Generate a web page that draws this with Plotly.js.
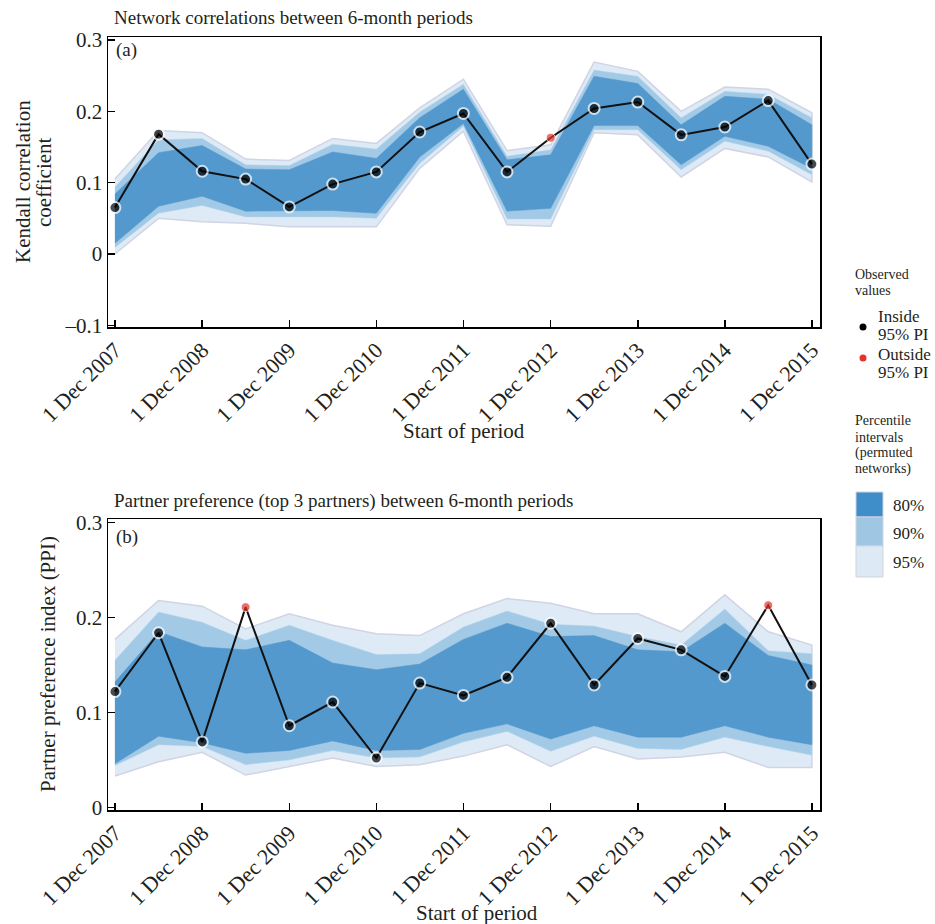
<!DOCTYPE html>
<html>
<head>
<meta charset="utf-8">
<script src="https://cdn.plot.ly/plotly-3.0.1.min.js"></script>
<style>html,body{margin:0;padding:0;background:#fff;}</style>
</head>
<body>
<div id="chart" style="width:935px;height:924px;"></div>
<script>
// ---- data ----
const periods = ['2007-12-01','2008-06-01','2008-12-01','2009-06-01','2009-12-01','2010-06-01','2010-12-01','2011-06-01','2011-12-01','2012-06-01','2012-12-01','2013-06-01','2013-12-01','2014-06-01','2014-12-01','2015-06-01','2015-12-01'];
const tickDates = ['2007-12-01','2008-12-01','2009-12-01','2010-12-01','2011-12-01','2012-12-01','2013-12-01','2014-12-01','2015-12-01'];
const tickLabels = ['1 Dec 2007','1 Dec 2008','1 Dec 2009','1 Dec 2010','1 Dec 2011','1 Dec 2012','1 Dec 2013','1 Dec 2014','1 Dec 2015'];

// Panel (a) Kendall correlation
const obsA  = [0.065,0.168,0.116,0.105,0.066,0.098,0.115,0.171,0.197,0.115,0.163,0.204,0.213,0.167,0.178,0.215,0.126];
const outA  = [0,0,0,0,0,0,0,0,0,0,1,0,0,0,0,0,0];
const lo80A = [0.015,0.067,0.081,0.060,0.060,0.061,0.057,0.136,0.183,0.060,0.064,0.180,0.180,0.125,0.165,0.151,0.120];
const hi80A = [0.084,0.142,0.152,0.119,0.118,0.143,0.134,0.191,0.231,0.132,0.139,0.249,0.239,0.181,0.221,0.217,0.181];
const lo90A = [0.009,0.057,0.068,0.052,0.052,0.052,0.050,0.127,0.179,0.049,0.049,0.174,0.174,0.118,0.158,0.144,0.111];
const hi90A = [0.094,0.160,0.162,0.125,0.124,0.154,0.147,0.199,0.238,0.137,0.146,0.258,0.249,0.191,0.228,0.224,0.191];
const lo95A = [0.000,0.050,0.045,0.043,0.038,0.038,0.038,0.120,0.172,0.041,0.039,0.170,0.167,0.108,0.148,0.136,0.101];
const hi95A = [0.105,0.173,0.170,0.133,0.131,0.162,0.155,0.205,0.245,0.145,0.153,0.269,0.256,0.200,0.234,0.231,0.198];

// Panel (b) Partner preference index
const obsB  = [0.122,0.184,0.069,0.211,0.086,0.111,0.052,0.131,0.118,0.137,0.194,0.129,0.178,0.166,0.138,0.213,0.129];
const outB  = [0,0,0,1,0,0,0,0,0,0,0,0,0,0,0,1,0];
const lo80B = [0.046,0.075,0.068,0.057,0.060,0.070,0.060,0.061,0.078,0.088,0.072,0.086,0.074,0.074,0.086,0.074,0.066];
const hi80B = [0.132,0.185,0.169,0.166,0.176,0.152,0.145,0.151,0.177,0.194,0.180,0.181,0.166,0.164,0.194,0.160,0.150];
const lo90B = [0.044,0.066,0.064,0.045,0.050,0.060,0.052,0.053,0.069,0.080,0.059,0.075,0.062,0.061,0.074,0.064,0.055];
const hi90B = [0.155,0.206,0.195,0.176,0.192,0.176,0.161,0.162,0.190,0.207,0.193,0.191,0.180,0.171,0.209,0.165,0.162];
const lo95B = [0.033,0.048,0.058,0.034,0.043,0.052,0.043,0.045,0.054,0.066,0.043,0.064,0.051,0.053,0.058,0.042,0.042];
const hi95B = [0.177,0.218,0.212,0.188,0.204,0.192,0.183,0.181,0.204,0.220,0.215,0.204,0.204,0.185,0.224,0.185,0.171];

// ---- styling ----
const C80 = '#5499cd', C90 = '#a2c9e5', C95 = '#deebf6';
const FONT = 'Liberation Serif, Times New Roman, serif';
const TXT = '#231f20';

function band(lo, hi, color, lineColor, lineW, xa, ya) {
  const xs = periods.concat(periods.slice().reverse());
  const ys = hi.concat(lo.slice().reverse());
  return {x: xs, y: ys, xaxis: xa, yaxis: ya, type: 'scatter', mode: 'lines',
    fill: 'toself', fillcolor: color, line: {color: lineColor, width: lineW},
    hoverinfo: 'skip', showlegend: false};
}
function obsTraces(obs, out, xa, ya) {
  return [
    {x: periods, y: obs, xaxis: xa, yaxis: ya, type: 'scatter', mode: 'lines',
     line: {color: '#111', width: 2}, showlegend: false},
    {x: periods, y: obs, xaxis: xa, yaxis: ya, type: 'scatter', mode: 'markers',
     marker: {color: out.map(o => o ? '#e3342b' : '#000'),
              size: out.map(o => o ? 9 : 11),
              line: {color: '#ffffff', width: out.map(o => o ? 1 : 2)}},
     showlegend: false}
  ];
}

const traces = [
  band(lo95A, hi95A, C95, '#d0d4e4', 1.5, 'x', 'y'),
  band(lo90A, hi90A, C90, '#b9d6ec', 0.5, 'x', 'y'),
  band(lo80A, hi80A, C80, C80, 0.5, 'x', 'y'),
  ...obsTraces(obsA, outA, 'x', 'y'),
  band(lo95B, hi95B, C95, '#d0d4e4', 1.5, 'x2', 'y2'),
  band(lo90B, hi90B, C90, '#b9d6ec', 0.5, 'x2', 'y2'),
  band(lo80B, hi80B, C80, C80, 0.5, 'x2', 'y2'),
  ...obsTraces(obsB, outB, 'x2', 'y2')
];

// pixel -> paper helpers (plot area: x 108..820, y 37..810)
const L = 108, R = 820, T = 37, B = 810;
const px = v => (v - L) / (R - L);
const py = v => (B - v) / (B - T);

const xBase = {
  type: 'date', range: ['2007-11-02', '2016-01-04'],
  tickvals: tickDates, ticktext: tickLabels, tickangle: -45,
  ticks: 'inside', ticklen: 7, tickwidth: 1.5, tickcolor: '#000',
  showline: true, linewidth: 1.5, linecolor: '#000', mirror: true,
  showgrid: false, zeroline: false,
  tickfont: {family: FONT, size: 22, color: TXT}
};
const yBase = {
  ticks: 'inside', ticklen: 7, tickwidth: 1.5, tickcolor: '#000',
  showline: true, linewidth: 1.5, linecolor: '#000', mirror: true,
  showgrid: false, zeroline: false,
  tickfont: {family: FONT, size: 21, color: TXT}
};

function ann(text, x, y, size, opts) {
  return Object.assign({text: text, x: x, y: y, xref: 'paper', yref: 'paper',
    showarrow: false, xanchor: 'left', yanchor: 'middle',
    font: {family: FONT, size: size, color: TXT}}, opts || {});
}

const annotations = [
  ann('Network correlations between 6-month periods', px(112), py(17), 19),
  ann('Partner preference (top 3 partners) between 6-month periods', px(112), py(501), 19),
  ann('(a)', px(114), py(50), 19),
  ann('(b)', px(114), py(537), 19),
  ann('Kendall correlation', px(23), py(182), 21, {textangle: -90, xanchor: 'center'}),
  ann('coefficient', px(44), py(182), 21, {textangle: -90, xanchor: 'center'}),
  ann('Partner preference index (PPI)', px(48), py(664), 21, {textangle: -90, xanchor: 'center'}),
  ann('Start of period', px(464), py(431), 21, {xanchor: 'center'}),
  ann('Start of period', px(477), py(913), 21, {xanchor: 'center'}),
  // legend text
  ann('Observed', px(853), py(274), 14),
  ann('values', px(853), py(290), 14),
  ann('Inside', px(876), py(316), 17),
  ann('95% PI', px(876), py(334), 17),
  ann('Outside', px(876), py(354), 17),
  ann('95% PI', px(876), py(372), 17),
  ann('Percentile', px(853), py(421), 14),
  ann('intervals', px(853), py(437), 14),
  ann('(permuted', px(853), py(453), 14),
  ann('networks)', px(853), py(469), 14),
  ann('80%', px(891), py(505), 17),
  ann('90%', px(891), py(533), 17),
  ann('95%', px(891), py(562), 17)
];

function rect(x0, y0, x1, y1, fill) {
  return {type: 'rect', xref: 'paper', yref: 'paper', x0: px(x0), x1: px(x1), y0: py(y1), y1: py(y0),
    fillcolor: fill, line: {color: '#cfd3df', width: 1}};
}
function dot(cx, cy, r, fill) {
  return {type: 'circle', xref: 'paper', yref: 'paper', x0: px(cx - r), x1: px(cx + r), y0: py(cy + r), y1: py(cy - r),
    fillcolor: fill, line: {width: 0}};
}
const shapes = [
  dot(863, 327, 3.5, '#000'),
  dot(863, 358, 3.5, '#e3342b'),
  rect(856, 492, 883, 517, '#3f8ec9'),
  rect(856, 517, 883, 546, '#9fc7e3'),
  rect(856, 546, 883, 577, '#dde9f5')
];

const layout = {
  width: 935, height: 924,
  margin: {l: L, r: 935 - R, t: T, b: 924 - B, pad: 0},
  paper_bgcolor: '#fff', plot_bgcolor: '#fff',
  showlegend: false,
  font: {family: FONT, color: TXT},
  xaxis: Object.assign({}, xBase, {domain: [0, 1], anchor: 'y'}),
  yaxis: Object.assign({}, yBase, {domain: [py(327), 1], anchor: 'x',
    range: [-0.1024, 0.3042], tickvals: [-0.1, 0, 0.1, 0.2, 0.3], ticktext: ['\u20130.1', '0', '0.1', '0.2', '0.3']}),
  xaxis2: Object.assign({}, xBase, {domain: [0, 1], anchor: 'y2'}),
  yaxis2: Object.assign({}, yBase, {domain: [0, py(519)], anchor: 'x2',
    range: [-0.0028, 0.3039], tickvals: [0, 0.1, 0.2, 0.3], ticktext: ['0', '0.1', '0.2', '0.3']}),
  annotations: annotations,
  shapes: shapes
};

Plotly.newPlot('chart', traces, layout, {displayModeBar: false, staticPlot: true});
</script>
</body>
</html>
